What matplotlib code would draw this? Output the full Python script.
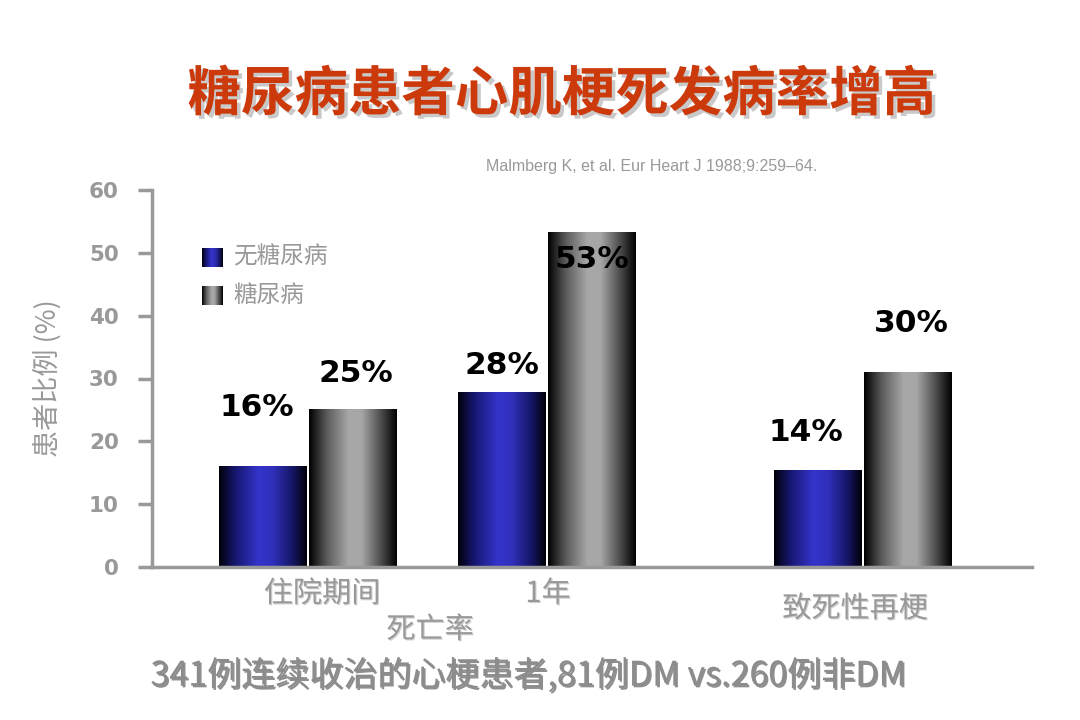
import numpy as np
import matplotlib
matplotlib.use("Agg")
import matplotlib.pyplot as plt
from matplotlib.colors import LinearSegmentedColormap
import matplotlib.patheffects as pe

plt.rcParams['font.family'] = ['Noto Sans CJK SC', 'DejaVu Sans']

# ---- data ----
categories = ["住院期间", "1年", "致死性再梗"]
series_names = ["无糖尿病", "糖尿病"]
no_dm = [16, 27.7, 15.3]
dm = [25, 53.2, 31.0]
no_dm_labels = ["16%", "28%", "14%"]
dm_labels = ["25%", "53%", "30%"]
yticks = [0, 10, 20, 30, 40, 50, 60]

# ---- layout ----
W, H = 1080, 720
fig = plt.figure(figsize=(10.8, 7.2), dpi=100)
ax = fig.add_axes([152 / W, 1 - 567 / H, (1032 - 152) / W, (567 - 190) / H])

group_x = np.array([1.733, 4.39, 7.9])
bw = 1.0

blue_cmap = LinearSegmentedColormap.from_list(
    "blue", [(0, "#000008"), (0.18, "#16166e"), (0.45, "#3434cc"),
             (0.62, "#2f2fba"), (0.85, "#141460"), (1.0, "#000005")])
gray_cmap = LinearSegmentedColormap.from_list(
    "gray", [(0, "#000000"), (0.2, "#5a5a5a"), (0.45, "#a8a8a8"),
             (0.6, "#a6a6a6"), (0.85, "#404040"), (1.0, "#000000")])
grad = np.linspace(0, 1, 256).reshape(1, -1)

bars_b = ax.bar(group_x - bw / 2, no_dm, bw, color="none", edgecolor="none")
bars_g = ax.bar(group_x + bw / 2, dm, bw, color="none", edgecolor="none")
for bars, cmap in ((bars_b, blue_cmap), (bars_g, gray_cmap)):
    for b in bars:
        x0 = b.get_x() + 0.012
        x1 = b.get_x() + b.get_width() - 0.012
        ax.imshow(grad, extent=[x0, x1, 0, b.get_height()], aspect="auto",
                  cmap=cmap, zorder=2, interpolation="bicubic")

ax.set_xlim(0, 9.78)
ax.set_ylim(0, 60)

# value labels (offsets in pixels)
b_off = [(-6, 59), (0, 27), (-12, 38)]
g_off = [(3, 36), (0, -27), (3, 49)]
for bars, labels, offs in ((bars_b, no_dm_labels, b_off), (bars_g, dm_labels, g_off)):
    for b, lab, (dx, dy) in zip(bars, labels, offs):
        ax.annotate(lab, (b.get_x() + b.get_width() / 2, b.get_height()),
                    xytext=(dx, dy), textcoords="offset pixels",
                    ha="center", va="center", fontsize=22.5, fontweight="bold",
                    family=["DejaVu Sans"], color="black", zorder=5)

# axes styling
for s in ["top", "right"]:
    ax.spines[s].set_visible(False)
ax.spines["left"].set_color("#999999")
ax.spines["bottom"].set_color("#999999")
ax.spines["left"].set_linewidth(2.5)
ax.spines["bottom"].set_linewidth(2.5)
ax.set_yticks(yticks)
ax.set_yticklabels([str(t) for t in yticks])
ax.tick_params(axis="y", length=10, width=2.5, color="#999999", pad=14,
               labelsize=15.5, labelcolor="#999999")
for t in ax.get_yticklabels():
    t.set_fontweight("bold")
    t.set_family(["DejaVu Sans"])
ax.set_xticks([])
ax.set_ylabel("患者比例 (%)", fontsize=19.5, color="#999999")
ax.yaxis.set_label_coords(-(152 - 62) / 880, 0.5)

# category labels
shadow_light = [pe.withSimplePatchShadow(offset=(0.8, -0.8), shadow_rgbFace="#bbbbbb", alpha=0.7)]
cat_pos = [(322, 594), (548, 594), (855, 609)]
for c, (px, py) in zip(categories, cat_pos):
    fig.text(px / W, 1 - py / H, c, ha="center", va="center", fontsize=21,
             color="#999999", path_effects=shadow_light)
fig.text(430 / W, 1 - 630 / H, "死亡率", ha="center", va="center", fontsize=21,
         color="#999999", path_effects=shadow_light)

# legend (manual)
leg_items = [(series_names[0], blue_cmap, 248), (series_names[1], gray_cmap, 286)]
for name, cmap, ytop in leg_items:
    lax = fig.add_axes([202 / W, 1 - (ytop + 19) / H, 21 / W, 19 / H])
    lax.imshow(grad, aspect="auto", cmap=cmap)
    lax.set_axis_off()
    fig.text(233 / W, 1 - (ytop + 9) / H, name, ha="left", va="center",
             fontsize=17, color="#999999")

# title
fig.text(562 / W, 1 - 95 / H, "糖尿病患者心肌梗死发病率增高", ha="center", va="center",
         fontsize=38.5, fontweight="bold", color="#CC3A0C",
         path_effects=[pe.withSimplePatchShadow(offset=(2.5, -2.5), shadow_rgbFace="#888888", alpha=0.45)])

# citation
fig.text(652 / W, 1 - 167 / H, "Malmberg K, et al. Eur Heart J 1988;9:259–64.",
         ha="center", va="center", fontsize=11.5, color="#999999",
         family=["Liberation Sans Narrow", "Liberation Sans", "DejaVu Sans"])

# bottom note
fig.text(528 / W, 1 - 676 / H, "341例连续收治的心梗患者,81例DM vs.260例非DM",
         ha="center", va="center", fontsize=24.5, color="#8c8c8c",
         path_effects=[pe.withSimplePatchShadow(offset=(1.2, -1.2), shadow_rgbFace="#444444", alpha=0.6)])

fig.savefig("out.png", dpi=100, facecolor="white")
